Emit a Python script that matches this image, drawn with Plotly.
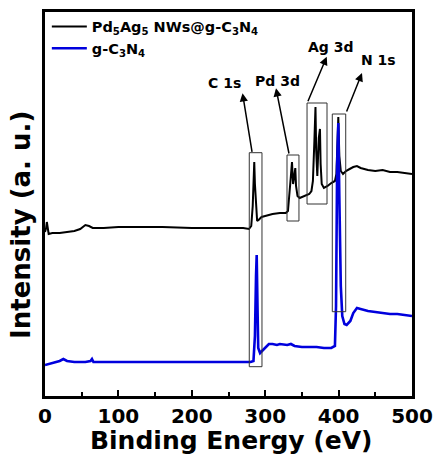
import plotly.graph_objects as go

# ---- data (binding energy in eV, intensity in arbitrary units) ----
pdag_energy = [0, 1.5, 2.5, 3.5, 5, 10, 20, 30, 40, 48, 55, 60, 65, 80, 100, 130, 160, 200, 240, 270,
               278, 281, 283, 284.5, 285.1, 286, 287.5, 289, 291, 295, 300, 310, 320, 328, 331, 333,
               335, 336.5, 338, 340, 341, 342, 344, 347, 350, 355, 360, 363, 365, 367, 368.5, 369.5,
               371, 373, 374.6, 375.5, 377, 380, 385, 390, 395, 397, 398.5, 399.6, 401, 403, 406, 410,
               415, 420, 425, 430, 440, 450, 460, 470, 480, 490, 500]
pdag_intensity = [164, 168, 174, 167, 162, 163, 163, 164, 165, 167, 171, 170, 168, 168, 169, 169, 169, 168, 168, 168,
                  167, 170, 190, 225, 234, 212, 185, 175, 176, 179, 180, 182, 183, 183, 185, 200,
                  220, 234, 212, 222, 228, 210, 200, 198, 199, 200, 202, 205, 215, 255, 289, 245,
                  220, 258, 267, 232, 212, 208, 210, 213, 215, 222, 260, 279, 240, 225, 222, 225,
                  227, 229, 230, 228, 226, 225, 226, 224, 224, 223, 222]

gcn_energy = [0, 5, 12, 20, 25, 30, 40, 55, 62, 64, 66, 80, 100, 130, 160, 200, 240, 270, 280, 284,
              286, 287.5, 288.4, 289.5, 290.5, 293, 297, 300, 305, 310, 316, 320, 330, 335, 340, 350,
              360, 370, 380, 390, 395, 396.5, 398, 399.6, 401, 403, 405, 408, 411, 416, 420, 425,
              430, 440, 450, 460, 470, 480, 490, 500]
gcn_intensity = [31, 32, 33, 35, 37, 35, 34, 34, 35, 37, 34, 34, 34, 34, 34, 34, 34, 34, 34, 35,
                 60, 120, 141, 90, 48, 43, 46, 49, 52, 52, 51, 52, 51, 52, 50, 49,
                 49, 49, 48, 48, 50, 90, 230, 273, 200, 110, 80, 72, 71, 75, 83, 88,
                 87, 85, 84, 83, 82, 82, 81, 80]

series_names = ["Pd<sub>5</sub>Ag<sub>5</sub> NWs@g-C<sub>3</sub>N<sub>4</sub>",
                "g-C<sub>3</sub>N<sub>4</sub>"]
series_colors = ["#000000", "#0000dd"]

# peak regions
peak_labels = ["C 1s", "Pd 3d", "Ag 3d", "N 1s"]
box_x0 = [278.3, 329.7, 357.0, 391.4]
box_x1 = [295.6, 346.0, 384.2, 409.7]
box_y0 = [29.3, 175.0, 192.0, 84.3]
box_y1 = [243.3, 241.0, 293.0, 282.0]
arrow_tail_x = [282.4, 332.8, 357.4, 410.1]
arrow_tail_y = [242.7, 241.0, 293.3, 283.0]
arrow_tip_x = [269.1, 314.7, 383.8, 431.9]
arrow_tip_y = [302.7, 307.7, 339.3, 323.0]
label_x = [245.2, 317.4, 389.6, 455.0]
label_y = [313.0, 315.3, 349.0, 336.0]

FONT = "DejaVu Sans"

fig = go.Figure()
fig.add_trace(go.Scatter(x=pdag_energy, y=pdag_intensity, mode="lines", name=series_names[0],
                         line=dict(color=series_colors[0], width=2)))
fig.add_trace(go.Scatter(x=gcn_energy, y=gcn_intensity, mode="lines", name=series_names[1],
                         line=dict(color=series_colors[1], width=2.6)))

for i in range(len(peak_labels)):
    fig.add_shape(type="rect", xref="x", yref="y", x0=box_x0[i], x1=box_x1[i], y0=box_y0[i], y1=box_y1[i],
                  line=dict(color="#333333", width=1), fillcolor="rgba(0,0,0,0)", layer="above")
    fig.add_annotation(x=arrow_tip_x[i], y=arrow_tip_y[i], ax=arrow_tail_x[i], ay=arrow_tail_y[i],
                       xref="x", yref="y", axref="x", ayref="y", text="", showarrow=True,
                       arrowhead=2, arrowsize=1.1, arrowwidth=1.5, arrowcolor="black", standoff=0)
    fig.add_annotation(x=label_x[i], y=label_y[i], xref="x", yref="y", text="<b>%s</b>" % peak_labels[i],
                       showarrow=False, font=dict(family=FONT, size=14, color="black"),
                       xanchor="center", yanchor="middle")

fig.add_annotation(x=0.507, y=-0.116, xref="paper", yref="paper", text="<b>Binding Energy (eV)</b>",
                   showarrow=False, font=dict(family=FONT, size=25, color="black"),
                   xanchor="center", yanchor="middle")
fig.add_annotation(x=-0.066, y=0.445, xref="paper", yref="paper", text="<b>Intensity (a. u.)</b>",
                   showarrow=False, textangle=-90, font=dict(family=FONT, size=26, color="black"),
                   xanchor="center", yanchor="middle")

fig.update_layout(
    width=435, height=459,
    margin=dict(l=45, r=23, t=12, b=63, autoexpand=False),
    paper_bgcolor="white", plot_bgcolor="white",
    font=dict(family=FONT, color="black"),
    showlegend=True,
    legend=dict(x=0.005, y=1.004, xanchor="left", yanchor="top", bgcolor="rgba(0,0,0,0)",
                font=dict(family=FONT, size=14.5, color="black", weight="bold"),
                itemwidth=35, tracegroupgap=0),
    xaxis=dict(range=[0, 500], tickvals=[0, 100, 200, 300, 400, 500],
               ticks="inside", ticklen=6, tickwidth=2, tickcolor="black",
               minor=dict(tickvals=[50, 150, 250, 350, 450], ticks="inside", ticklen=4, tickwidth=2,
                          tickcolor="black"),
               showline=True, linewidth=2.5, linecolor="black", mirror=True,
               showgrid=False, zeroline=False, automargin=False,
               tickfont=dict(family=FONT, size=20, color="black", weight="bold"),
               ticklabelstandoff=0),
    yaxis=dict(range=[0, 384], showticklabels=False, ticks="", automargin=False,
               showline=True, linewidth=2.5, linecolor="black", mirror=True,
               showgrid=False, zeroline=False),
)

fig.write_html("out.html")
